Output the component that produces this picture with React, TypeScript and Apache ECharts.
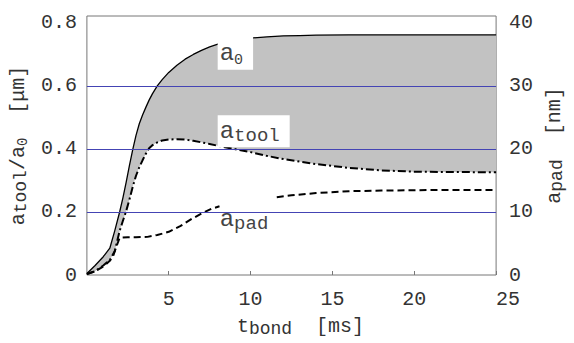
import React, { useEffect, useRef } from 'react';
import * as echarts from 'echarts';

// time axis (ms) shared by a0 and a_tool
const T = [0, 0.5, 1.0, 1.4, 1.7, 2.0, 2.2, 2.4, 2.6, 2.8, 3.0, 3.2, 3.4, 3.6, 3.8, 4.0, 4.3, 4.6, 5.0, 5.5, 6, 6.5, 7, 7.5, 8, 9, 10, 11, 12, 13, 14, 16, 18, 20, 22, 25];
// a0 [µm]
const A0 = [0.005, 0.03, 0.058, 0.085, 0.14, 0.2, 0.245, 0.295, 0.348, 0.398, 0.443, 0.48, 0.508, 0.532, 0.555, 0.575, 0.6, 0.62, 0.643, 0.666, 0.685, 0.7, 0.713, 0.724, 0.733, 0.745, 0.752, 0.756, 0.759, 0.76, 0.761, 0.762, 0.762, 0.762, 0.762, 0.762];
// a_tool [µm]
const ATOOL = [0.003, 0.012, 0.03, 0.048, 0.075, 0.14, 0.172, 0.203, 0.24, 0.28, 0.315, 0.342, 0.364, 0.385, 0.402, 0.412, 0.421, 0.427, 0.43, 0.431, 0.43, 0.426, 0.421, 0.416, 0.41, 0.4, 0.39, 0.378, 0.368, 0.36, 0.352, 0.34, 0.332, 0.328, 0.327, 0.326];
// a_pad (in left-axis units; right axis = x50 nm)
const TPAD = [0, 0.5, 1.0, 1.4, 1.6, 1.8, 2.0, 2.5, 3.0, 3.7, 4.3, 5.0, 5.7, 6.4, 7.0, 7.6, 8.1, 8.2, 11.6, 12.5, 14, 16, 18, 20, 22, 25];
const APAD = [0.003, 0.012, 0.027, 0.045, 0.06, 0.09, 0.118, 0.12, 0.12, 0.121, 0.127, 0.137, 0.155, 0.178, 0.195, 0.21, 0.218, null, 0.247, 0.253, 0.26, 0.266, 0.268, 0.269, 0.27, 0.27];

const GRID_LEVELS = [0.2, 0.4, 0.6];

const MONO = '"Liberation Mono", "DejaVu Sans Mono", monospace';

const annotRich = {
  a: { fontFamily: MONO, fontSize: 24, lineHeight: 26, color: '#444', verticalAlign: 'top' },
  s: { fontFamily: MONO, fontSize: 19, lineHeight: 12, color: '#444', verticalAlign: 'bottom' },
  z: { fontFamily: MONO, fontSize: 15, lineHeight: 10, color: '#444', verticalAlign: 'bottom' },
};

const titleRich = {
  a: { fontFamily: MONO, fontSize: 20, lineHeight: 22, color: '#333', verticalAlign: 'top' },
  s: { fontFamily: MONO, fontSize: 18, lineHeight: 12, color: '#333', verticalAlign: 'bottom' },
  z: { fontFamily: MONO, fontSize: 14, lineHeight: 10, color: '#333', verticalAlign: 'bottom' },
};

export default function App() {
  const ref = useRef<HTMLDivElement>(null);
  useEffect(() => {
    document.body.style.margin = '0';
    const chart = echarts.init(ref.current!, null, { renderer: 'svg' });
    const a0Data = T.map((t, i) => [t, A0[i]]);
    const toolData = T.map((t, i) => [t, ATOOL[i]]);
    const padData = TPAD.map((t, i) => [t, APAD[i]]);

    chart.setOption({
      animation: false,
      backgroundColor: '#fff',
      grid: { left: 80, right: 68, top: 16, bottom: 64, show: true, borderColor: '#777', borderWidth: 1 },
      xAxis: {
        type: 'value', min: 0, max: 25, interval: 5,
        axisLine: { show: false },
        axisTick: { show: true, inside: true, length: 4, lineStyle: { color: '#777' } },
        splitLine: { show: false },
        axisLabel: { fontFamily: MONO, fontSize: 20, color: '#333', margin: 14, showMinLabel: false, alignMaxLabel: 'left' },
        name: '{a|t}{s|bond}{a|  [ms]}',
        nameLocation: 'middle', nameGap: 41,
        nameTextStyle: { fontFamily: MONO, padding: [0, 0, 0, 18], rich: titleRich },
      },
      yAxis: [
        {
          type: 'value', min: 0, max: 0.822, interval: 0.2,
          axisLine: { show: false },
          axisTick: { show: false },
          splitLine: { show: false },
          axisLabel: {
            fontFamily: MONO, fontSize: 20, color: '#333', margin: 10,
            formatter: (v: number) => (Math.abs(v * 5 - Math.round(v * 5)) < 1e-6 ? String(+v.toFixed(1)) : ''),
          },
          name: '{a|a}{s|tool}{a|/a}{z|0}{a|  [μm]}',
          nameLocation: 'middle', nameGap: 46, nameRotate: 90,
          nameTextStyle: { fontFamily: MONO, rich: titleRich },
        },
        {
          type: 'value', min: 0, max: 41.1, interval: 10, position: 'right',
          axisLine: { show: false },
          axisTick: { show: false },
          splitLine: { show: false },
          axisLabel: {
            fontFamily: MONO, fontSize: 20, color: '#333', margin: 13,
            formatter: (v: number) => (v % 10 === 0 ? String(v) : ''),
          },
          name: '{a|a}{s|pad}{a|  [nm]}',
          nameLocation: 'middle', nameGap: 44, nameRotate: 90,
          nameTextStyle: { fontFamily: MONO, rich: titleRich },
        },
      ],
      series: [
        {
          type: 'custom',
          silent: true,
          clip: true,
          z: 1,
          data: [[0, 0]],
          renderItem: (params: any, api: any) => {
            const pts: number[][] = [];
            for (let i = 0; i < T.length; i++) pts.push(api.coord([T[i], A0[i]]));
            for (let i = T.length - 1; i >= 0; i--) pts.push(api.coord([T[i], ATOOL[i]]));
            return { type: 'polygon', shape: { points: pts }, style: { fill: '#c2c2c2', stroke: 'none' } };
          },
        },
        {
          name: 'a0', type: 'line', data: a0Data, symbol: 'none', z: 3,
          lineStyle: { color: '#000', width: 1.3 },
          markPoint: {
            symbol: 'circle', symbolSize: 1, itemStyle: { color: 'rgba(0,0,0,0)' },
            data: [
              {
                coord: [7.99, 0.759],
                label: {
                  show: true, position: 'inside', align: 'left', verticalAlign: 'top',
                  backgroundColor: '#fff', padding: [6, 10, 2, 2],
                  formatter: '{a|a}{z|0}', rich: annotRich,
                },
              },
              {
                coord: [7.99, 0.507],
                label: {
                  show: true, position: 'inside', align: 'left', verticalAlign: 'top',
                  backgroundColor: '#fff', padding: [4, 10, 2, 2],
                  formatter: '{a|a}{s|tool}', rich: annotRich,
                },
              },
              {
                coord: [7.99, 0.214],
                label: {
                  show: true, position: 'inside', align: 'left', verticalAlign: 'top',
                  padding: [0, 0, 0, 2],
                  formatter: '{a|a}{s|pad}', rich: annotRich,
                },
              },
            ],
          },
        },
        {
          name: 'a_tool', type: 'line', data: toolData, symbol: 'none', z: 3,
          lineStyle: { color: '#000', width: 2, type: [8, 3, 2, 3] },
        },
        {
          name: 'a_pad', type: 'line', data: padData, symbol: 'none', z: 3, connectNulls: false,
          lineStyle: { color: '#000', width: 2, type: [7, 4] },
          markLine: {
            silent: true, symbol: ['none', 'none'], label: { show: false },
            lineStyle: { color: '#4444b4', width: 1, type: 'solid' },
            data: GRID_LEVELS.map((v) => ({ yAxis: v })),
          },
        },
      ],
    });
    return () => chart.dispose();
  }, []);
  return <div ref={ref} style={{ width: 574, height: 343 }} />;
}
